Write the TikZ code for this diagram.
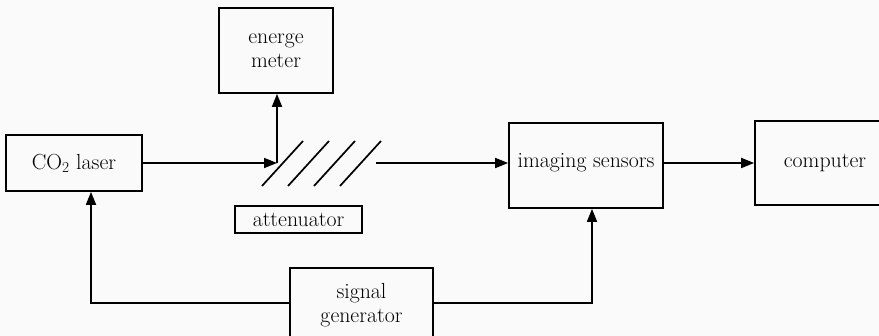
\documentclass[tikz,border=0pt]{standalone}
\usepackage{fontspec}
\setmainfont{Latin Modern Roman}
\usetikzlibrary{arrows.meta}
\begin{document}
\begin{tikzpicture}[x=1pt,y=-1pt,
  txt/.style={inner sep=0pt,align=center,font=\fontsize{21.8}{24}\selectfont},
  box/.style={txt,draw,line width=1.7pt},
  conn/.style={line width=1.7pt},
  arr/.style={conn,-{Triangle[length=13pt,width=10pt]}}]
\useasboundingbox (0,0) rectangle (879,336);
\clip (0,0) rectangle (879,336);
\fill[white!98!black] (0,0) rectangle (879,336);
\node[box,minimum width=114pt,minimum height=85pt] (meter) at (276,50.5) {energe\\meter};
\node[box,minimum width=136pt,minimum height=56pt] (laser) at (74,163) {CO\textsubscript{2} laser};
\node[box,minimum width=127pt,minimum height=27pt] (att) at (298.5,219.5) {attenuator};
\node[box,minimum width=154pt,minimum height=85pt] (img) at (586,165.5) {};
\node[txt] (imgtxt) at (586,163) {imaging sensors};
\node[box,minimum width=140pt,minimum height=84pt] (comp) at (825,163) {computer};
\node[box,minimum width=143pt,minimum height=74pt,anchor=north] (sig) at (361.5,267) {signal\\generator};
\coordinate (split) at (277,163);
\coordinate (out) at (376,163);
\foreach \k in {0,1,2,3} {
  \draw[conn] (262+26*\k,186) -- (303+26*\k,141);
}
\draw[arr] (laser.east) -- (split);
\draw[arr] (split) -- (split |- meter.south);
\draw[arr] (out) -- (img.west |- out);
\draw[arr] (img.east |- out) -- (comp.west |- out);
\draw[arr] (sig.west |- 0,303) -| ([xshift=17pt]laser.south);
\draw[arr] (sig.east |- 0,303) -| ([xshift=6pt]img.south);
\end{tikzpicture}
\end{document}
